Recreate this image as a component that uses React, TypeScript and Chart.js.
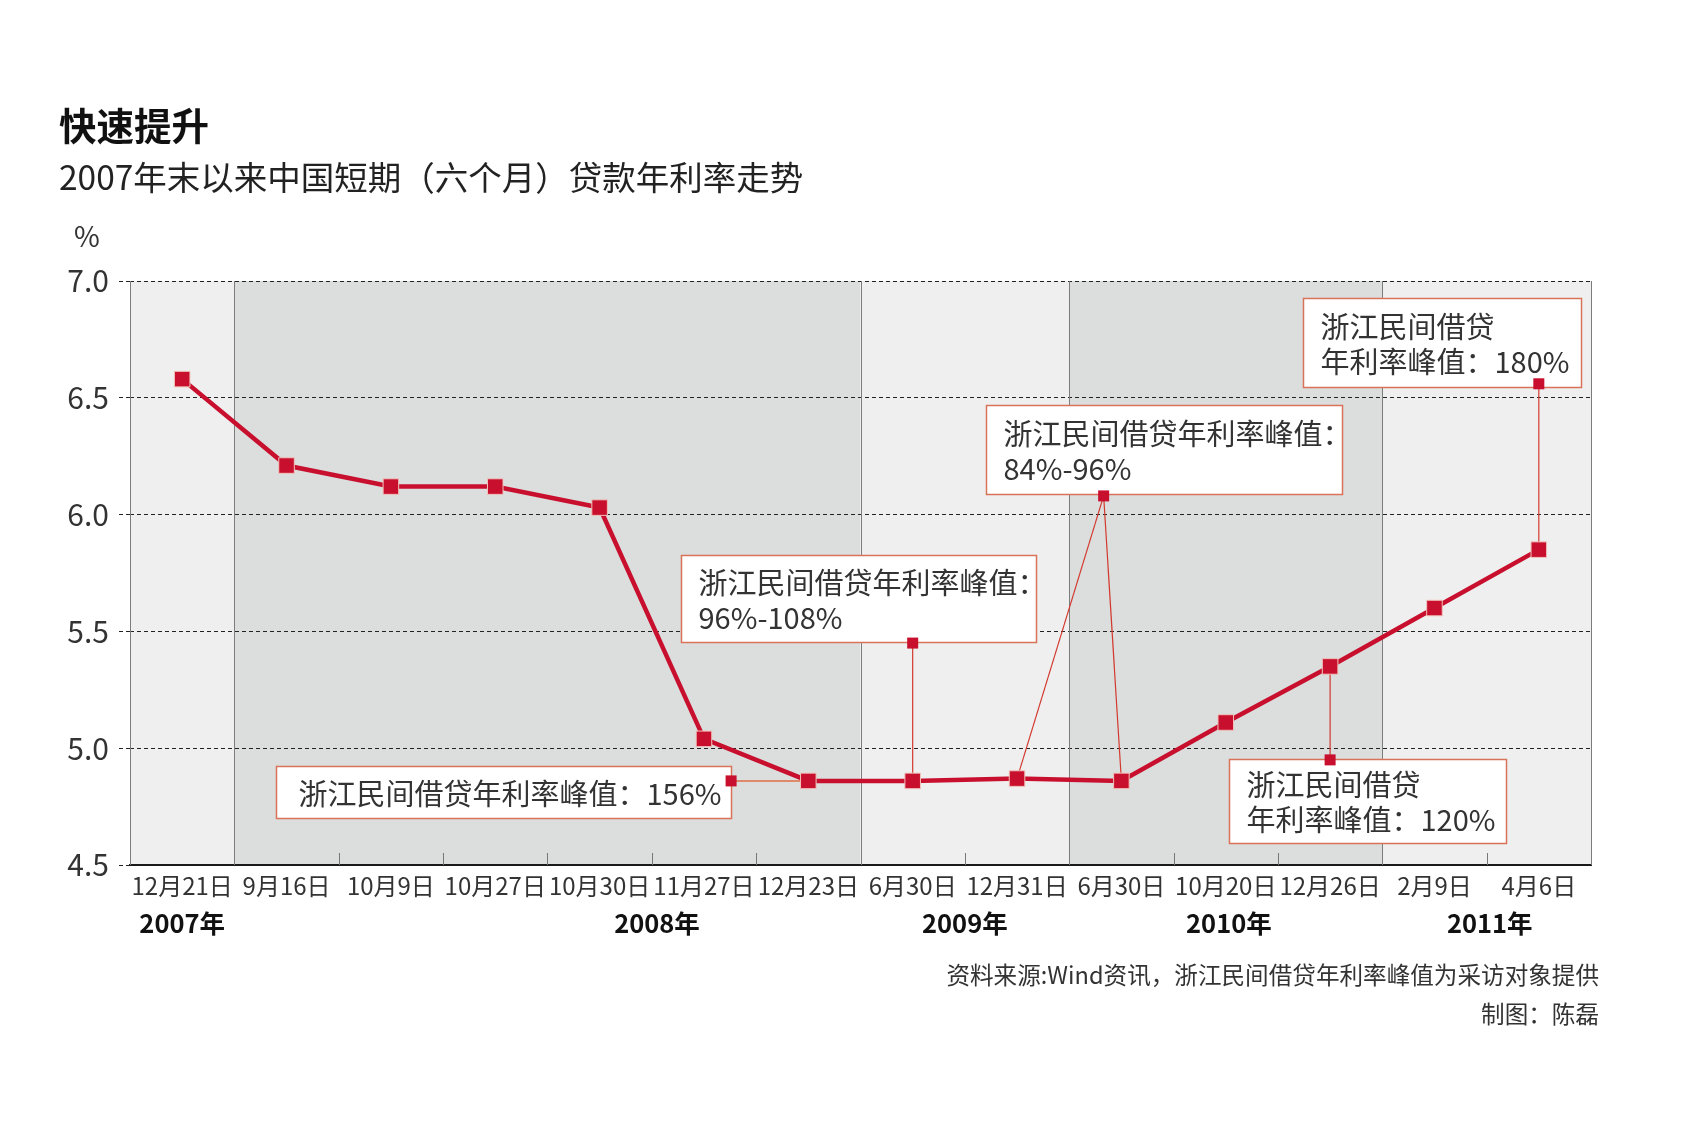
import React, { useEffect, useRef } from "react";
import { Chart, registerables } from "chart.js";

Chart.register(...registerables);

// ---------- data ----------
const categories = [
  "12月21日", "9月16日", "10月9日", "10月27日", "10月30日", "11月27日", "12月23日",
  "6月30日", "12月31日", "6月30日", "10月20日", "12月26日", "2月9日", "4月6日",
];
const rates = [6.58, 6.21, 6.12, 6.12, 6.03, 5.04, 4.86, 4.86, 4.87, 4.86, 5.11, 5.35, 5.6, 5.85];
const yearLabels = ["2007年", "2008年", "2009年", "2010年", "2011年"];
const yearLabelPos = [0, 4.55, 7.5, 10.03, 12.53];
const yearBounds = [-0.5, 0.5, 6.5, 8.5, 11.5, 13.5];
const yMin = 4.5;
const yMax = 7.0;
const yStep = 0.5;

// annotations (peak private lending rates in Zhejiang)
const noteX = [5.26, 7, 8.83, 13, 11];
const noteY = [4.86, 5.45, 6.08, 6.56, 4.95];
const noteLinks = [[6], [7], [8, 9], [13], [11]];
const noteTexts = [
  ["浙江民间借贷年利率峰值：156%"],
  ["浙江民间借贷年利率峰值：", "96%-108%"],
  ["浙江民间借贷年利率峰值：", "84%-96%"],
  ["浙江民间借贷", "年利率峰值：180%"],
  ["浙江民间借贷", "年利率峰值：120%"],
];

// ---------- layout / style ----------
const noteBoxes = [
  { x0: 0.9, x1: 5.26, top: 4.923, bottom: 4.7, pad: 22 },
  { x0: 4.78, x1: 8.18, top: 5.829, bottom: 5.453, pad: 17 },
  { x0: 7.7, x1: 11.11, top: 6.47, bottom: 6.089, pad: 17 },
  { x0: 10.74, x1: 13.4, top: 6.926, bottom: 6.545, pad: 17 },
  { x0: 10.03, x1: 12.69, top: 4.955, bottom: 4.593, pad: 17 },
];
const linkColors = ["#e08a6c", "#d2392e", "#d2392e", "#d2392e", "#d2392e"];
const FONT = "'Noto Sans CJK SC', 'Noto Sans', sans-serif";
const RED = "#c8102e";

const decorPlugin = {
  id: "decor",
  beforeDraw(chart: any) {
    const { ctx, chartArea, scales } = chart;
    const x = scales.x;
    ctx.save();
    ctx.fillStyle = "#ffffff";
    ctx.fillRect(0, 0, chart.width, chart.height);
    for (let i = 0; i < yearBounds.length - 1; i++) {
      const a = x.getPixelForValue(yearBounds[i]);
      const b = x.getPixelForValue(yearBounds[i + 1]);
      ctx.fillStyle = i % 2 === 0 ? "#efefef" : "#dcdddd";
      ctx.fillRect(a, chartArea.top, b - a, chartArea.bottom - chartArea.top);
    }
    ctx.restore();
  },
  beforeDatasetsDraw(chart: any) {
    const { ctx, chartArea, scales } = chart;
    const x = scales.x;
    const y = scales.y;
    ctx.save();
    // year separators and frame
    ctx.strokeStyle = "#7c7c7c";
    ctx.lineWidth = 1;
    for (const b of yearBounds) {
      const px = Math.round(x.getPixelForValue(b)) + 0.5;
      ctx.beginPath();
      ctx.moveTo(px, chartArea.top);
      ctx.lineTo(px, chartArea.bottom);
      ctx.stroke();
    }
    // minor ticks at category boundaries
    ctx.strokeStyle = "#777";
    for (let i = 0; i < categories.length - 1; i++) {
      const b = i + 0.5;
      if (yearBounds.includes(b)) continue;
      const px = Math.round(x.getPixelForValue(b)) + 0.5;
      ctx.beginPath();
      ctx.moveTo(px, chartArea.bottom);
      ctx.lineTo(px, chartArea.bottom - 12);
      ctx.stroke();
    }
    // annotation links
    for (let k = 0; k < noteX.length; k++) {
      const mx = x.getPixelForValue(noteX[k]);
      const my = y.getPixelForValue(noteY[k]);
      ctx.strokeStyle = linkColors[k];
      ctx.lineWidth = k === 0 ? 2 : 1.2;
      for (const idx of noteLinks[k]) {
        ctx.beginPath();
        ctx.moveTo(mx, my);
        ctx.lineTo(x.getPixelForValue(idx), y.getPixelForValue(rates[idx]));
        ctx.stroke();
      }
    }
    // annotation boxes
    for (let k = 0; k < noteBoxes.length; k++) {
      const bx = noteBoxes[k];
      const l = Math.round(x.getPixelForValue(bx.x0)) + 0.5;
      const r = Math.round(x.getPixelForValue(bx.x1)) + 0.5;
      const t = Math.round(y.getPixelForValue(bx.top)) + 0.5;
      const btm = Math.round(y.getPixelForValue(bx.bottom)) + 0.5;
      ctx.fillStyle = "#ffffff";
      ctx.fillRect(l, t, r - l, btm - t);
      ctx.strokeStyle = "#d8735a";
      ctx.lineWidth = 1.5;
      ctx.strokeRect(l, t, r - l, btm - t);
      const lines = noteTexts[k];
      const lh = 35;
      const cy = (t + btm) / 2;
      ctx.fillStyle = "#333";
      ctx.font = `29px ${FONT}`;
      ctx.textAlign = "left";
      ctx.textBaseline = "middle";
      lines.forEach((ln, i) => {
        ctx.fillText(ln, l + bx.pad, cy + (i - (lines.length - 1) / 2) * lh + 1);
      });
    }
    ctx.restore();
  },
  afterDatasetsDraw(chart: any) {
    const { ctx, scales } = chart;
    const x = scales.x;
    const y = scales.y;
    ctx.save();
    ctx.fillStyle = RED;
    for (let k = 0; k < noteX.length; k++) {
      const mx = x.getPixelForValue(noteX[k]);
      const my = y.getPixelForValue(noteY[k]);
      ctx.fillRect(mx - 5.5, my - 5.5, 11, 11);
    }
    ctx.restore();
  },
  afterDraw(chart: any) {
    const { ctx, scales } = chart;
    const x = scales.x;
    ctx.save();
    ctx.textBaseline = "middle";
    // year labels
    ctx.fillStyle = "#111";
    ctx.font = `bold 25.5px ${FONT}`;
    ctx.textAlign = "center";
    yearLabels.forEach((lab, i) => {
      ctx.fillText(lab, x.getPixelForValue(yearLabelPos[i]), 923);
    });
    // titles
    ctx.textAlign = "left";
    ctx.fillStyle = "#111";
    ctx.font = `bold 37.5px ${FONT}`;
    ctx.fillText("快速提升", 59, 126);
    ctx.fillStyle = "#222";
    ctx.font = `33.5px ${FONT}`;
    ctx.fillText("2007年末以来中国短期（六个月）贷款年利率走势", 59, 177);
    // unit
    ctx.fillStyle = "#333";
    ctx.font = `28px ${FONT}`;
    ctx.textAlign = "center";
    ctx.fillText("%", 87, 236);
    // source
    ctx.textAlign = "right";
    ctx.font = `23.6px ${FONT}`;
    ctx.fillStyle = "#333";
    ctx.fillText("资料来源:Wind资讯，浙江民间借贷年利率峰值为采访对象提供", 1599, 975);
    ctx.fillText("制图：陈磊", 1599, 1014);
    ctx.restore();
  },
};

export default function App() {
  const ref = useRef<HTMLCanvasElement>(null);
  useEffect(() => {
    const chart = new Chart(ref.current as HTMLCanvasElement, {
      type: "line",
      data: {
        labels: categories,
        datasets: [
          {
            data: rates,
            borderColor: RED,
            borderWidth: 4.5,
            pointStyle: "rect",
            pointRadius: 11,
            pointBackgroundColor: RED,
            pointBorderColor: "#f0c4bb",
            pointBorderWidth: 1,
            tension: 0,
            fill: false,
          },
        ],
      },
      options: {
        animation: false,
        responsive: false,
        devicePixelRatio: 1,
        layout: { padding: { top: 281, right: 110, left: 0, bottom: 0 } },
        plugins: { legend: { display: false }, tooltip: { enabled: false }, title: { display: false } },
        scales: {
          x: {
            type: "category",
            offset: true,
            grid: { display: false, drawTicks: false },
            border: { display: true, color: "#1a1a1a", width: 2 },
            ticks: {
              autoSkip: false,
              maxRotation: 0,
              minRotation: 0,
              padding: 6,
              color: "#333",
              font: { family: FONT, size: 24 },
            },
            afterFit: (s: any) => {
              s.height = 269;
            },
          },
          y: {
            type: "linear",
            min: yMin,
            max: yMax,
            border: { display: false, dash: [4, 3] },
            grid: {
              color: "#222",
              lineWidth: 1,
              tickLength: 11,
              tickColor: "#222",
              tickBorderDash: [4, 3],
            },
            ticks: {
              stepSize: yStep,
              padding: 10,
              color: "#333",
              font: { family: FONT, size: 30 },
              callback: (v: any) => Number(v).toFixed(1),
            },
            afterFit: (s: any) => {
              s.width = 130;
            },
          },
        },
      },
      plugins: [decorPlugin],
    } as any);
    return () => chart.destroy();
  }, []);
  return (
    <div style={{ position: "absolute", left: 0, top: 0, width: 1701, height: 1134, background: "#fff" }}>
      <canvas ref={ref} width={1701} height={1134} style={{ display: "block", width: 1701, height: 1134 }} />
    </div>
  );
}
